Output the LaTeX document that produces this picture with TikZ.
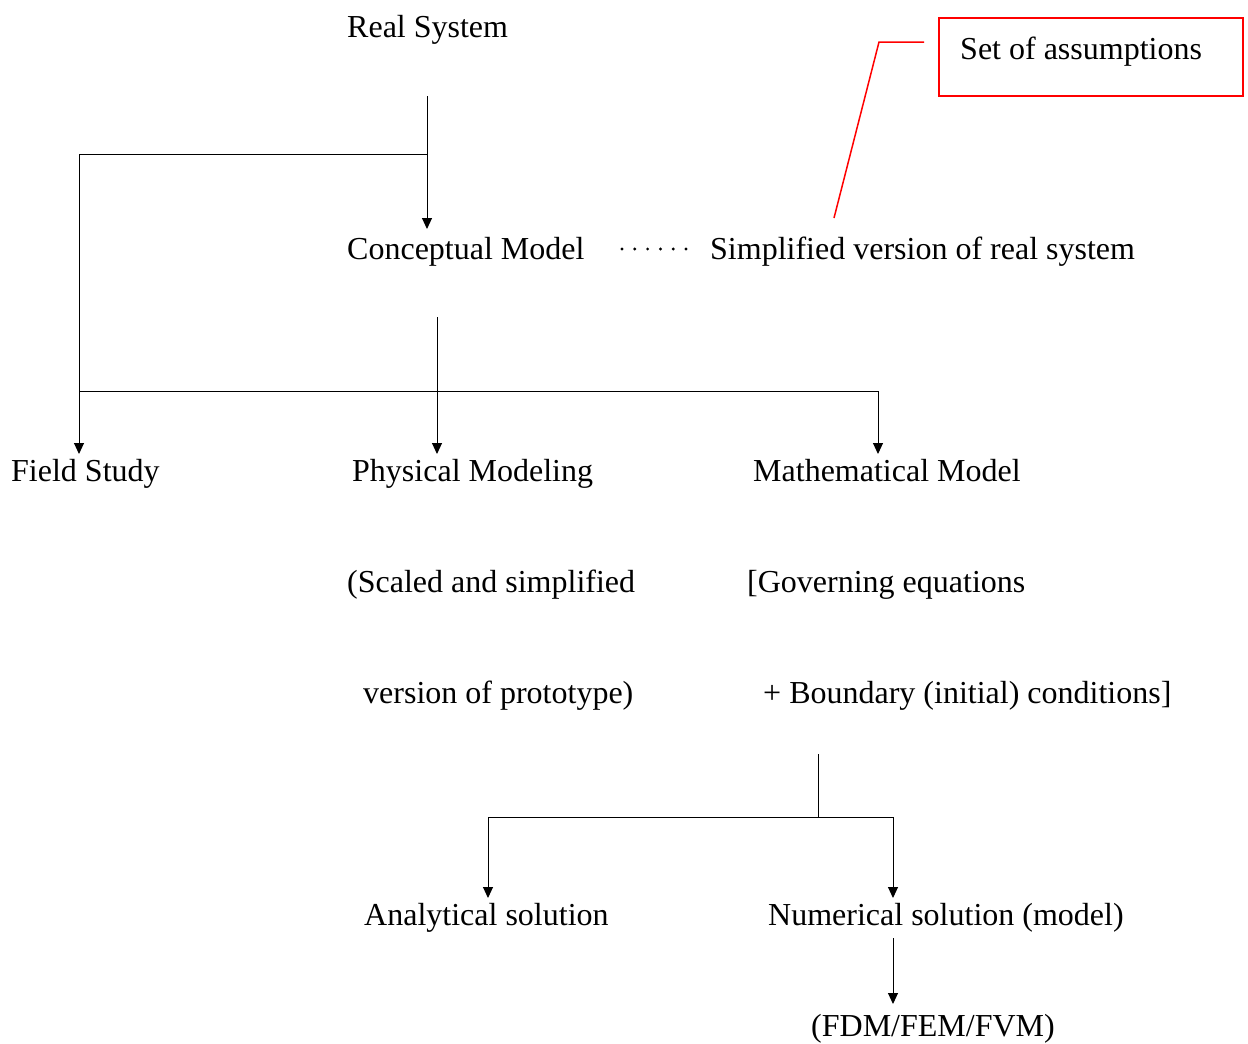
\documentclass[tikz,border=0pt]{standalone}
\usepackage{fontspec}
\setmainfont{Liberation Serif}
\usepackage{tikz}
\usetikzlibrary{arrows.meta, positioning}

\tikzset{
  txt/.style={anchor=base west, inner sep=0pt, font=\fontsize{32}{38}\selectfont},
  arr/.style={line width=1pt, -{Triangle[length=11pt, width=10pt]}},
  ln/.style={line width=1pt},
}

\begin{document}
\begin{tikzpicture}[x=1pt, y=-1pt]
      \useasboundingbox (0,0) rectangle (1248,1044);
      % text nodes
      \node[txt] (real) at (347,37) {Real System};
      \node[txt] (concept) at (347,259) {Conceptual Model};
      \node[txt] (simple) at (710,259) {Simplified version of real system};
      \node[draw=red, line width=1.5pt, rectangle, minimum width=304pt, minimum height=78pt]
        (assum) at (1091,57) {};
      \node[txt] (assumtxt) at (960,59) {Set of assumptions};
      \node[txt] (field) at (11,481) {Field Study};
      \node[txt] (phys) at (352,481) {Physical Modeling};
      \node[txt] (math) at (753,481) {Mathematical Model};
      \node[txt] (phys2) at (347,592) {(Scaled and simplified};
      \node[txt] (math2) at (747,592) {[Governing equations};
      \node[txt] (phys3) at (363,703) {version of prototype)};
      \node[txt] (math3) at (763,703) {+ Boundary (initial) conditions]};
      \node[txt] (anal) at (364,925) {Analytical solution};
      \node[txt] (num) at (768,925) {Numerical solution (model)};
      \node[txt] (fdm) at (811,1036) {(FDM/FEM/FVM)};
      % branch points and arrow ends
      \coordinate (rs) at (427,96);
      \coordinate (rsj) at (427,154);
      \coordinate (cmin) at (427,229);
      \coordinate (fsj) at (79,154);
      \coordinate (fsin) at (79,454);
      \coordinate (cm) at (437,317);
      \coordinate (pmin) at (437,454);
      \coordinate (lj) at (79,391);
      \coordinate (rj) at (878,391);
      \coordinate (mmin) at (878,454);
      \coordinate (mm) at (818,754);
      \coordinate (mmj) at (818,817);
      \coordinate (aj) at (488,817);
      \coordinate (asin) at (488,898);
      \coordinate (nj) at (893,817);
      \coordinate (nsin) at (893,898);
      \coordinate (ns) at (893,938);
      \coordinate (fdmin) at (893,1004);
      \coordinate (lead1) at (924,42);
      \coordinate (lead2) at (879,42);
      \coordinate (lead3) at (834,218);
      \coordinate (dot1) at (622,249);
      \coordinate (dot2) at (686,249);
      % connectors
      \draw[arr] (rs) -- (cmin);
      \draw[ln] (rsj) -- (fsj);
      \draw[arr] (fsj) -- (fsin);
      \draw[arr] (cm) -- (pmin);
      \draw[ln] (lj) -- (rj);
      \draw[arr] (rj) -- (mmin);
      \draw[ln] (mm) -- (mmj);
      \draw[ln] (aj) -- (nj);
      \draw[arr] (aj) -- (asin);
      \draw[arr] (nj) -- (nsin);
      \draw[arr] (ns) -- (fdmin);
      \draw[line width=3.2pt, line cap=round, dash pattern=on 0pt off 12.8pt] (dot1) -- (dot2);
      \draw[red, line width=1.5pt] (lead1) -- (lead2) -- (lead3);
\end{tikzpicture}
\end{document}
